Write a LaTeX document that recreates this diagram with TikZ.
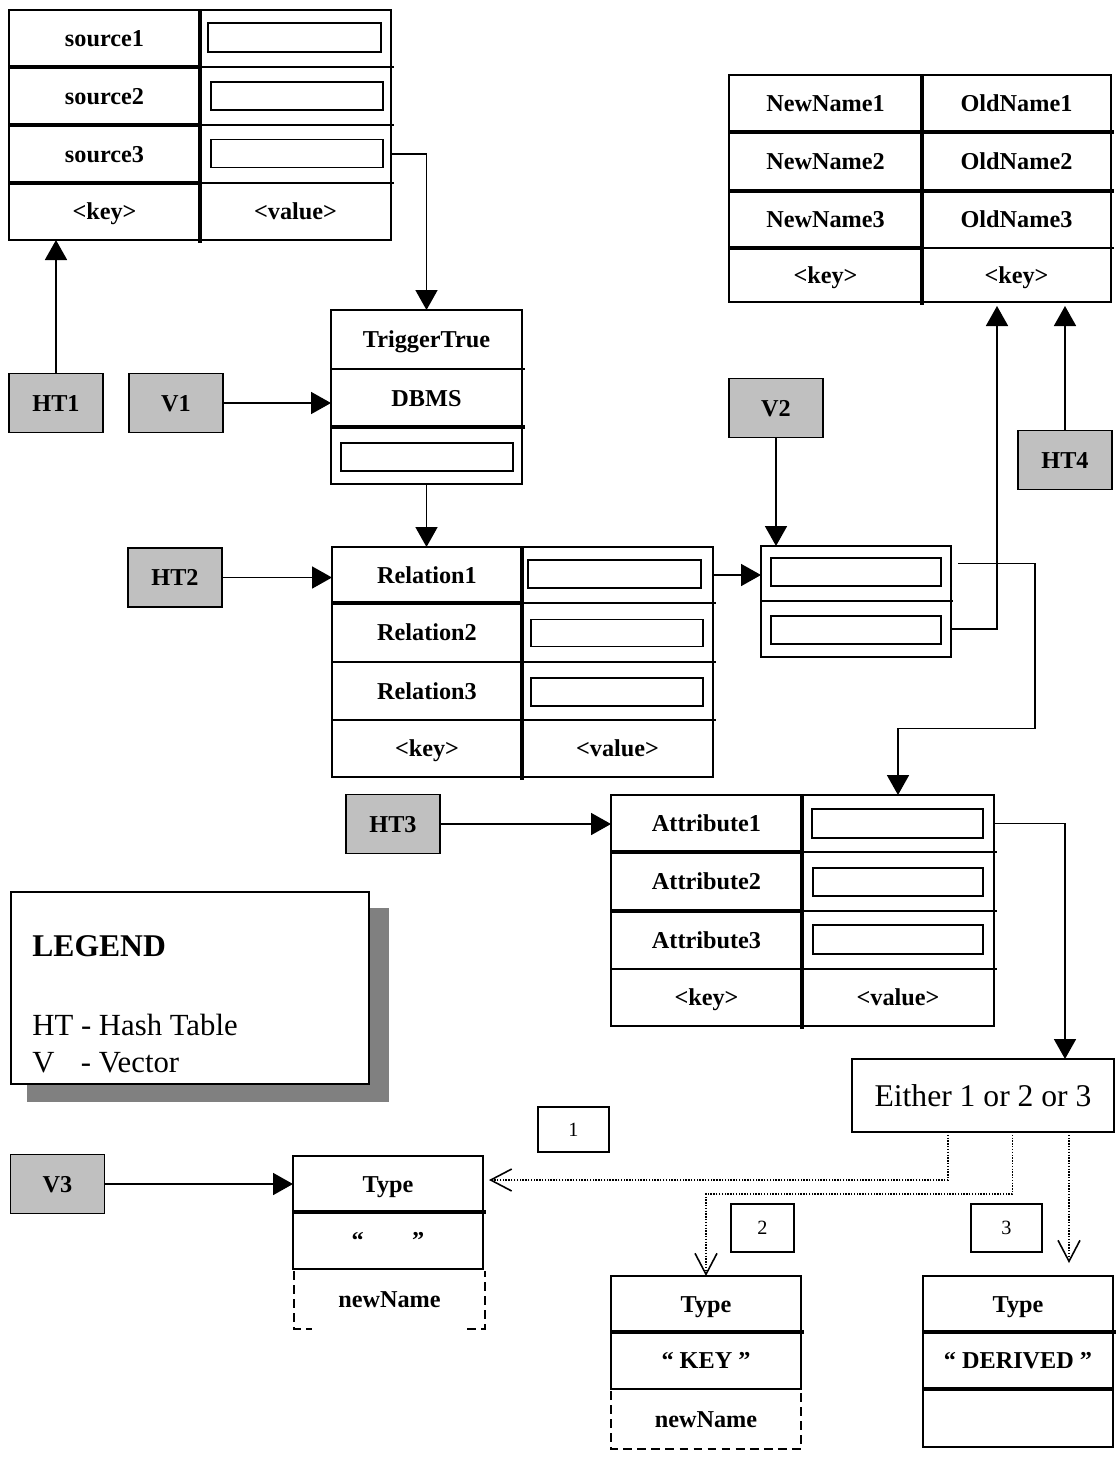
\documentclass[tikz,border=0pt]{standalone}
\usepackage{fontspec}
\setmainfont{Liberation Serif}
\usetikzlibrary{arrows.meta}
\definecolor{gboxc}{RGB}{192,192,192}
\definecolor{shadowc}{RGB}{128,128,128}
\newcommand{\lblfont}{\fontsize{13.8}{16}\selectfont\bfseries}
\begin{document}
\begin{tikzpicture}[x=0.02cm,y=-0.02cm,
  tframe/.style={line width=1.1pt},
  thickln/.style={line width=1.8pt},
  thinln/.style={line width=1pt},
  cell/.style 2 args={minimum width=#1*0.02cm,minimum height=#2*0.02cm,inner sep=0pt,outer sep=0pt,font=\lblfont,text height=9.3pt,text depth=0pt},
  vbox/.style 2 args={draw,line width=1pt,minimum width=#1*0.02cm,minimum height=#2*0.02cm,inner sep=0pt,outer sep=0pt},
  gbox/.style={draw,fill=gboxc,line width=1.1pt,minimum width=94*0.02cm,minimum height=59*0.02cm,inner sep=0pt,outer sep=0pt,font=\lblfont,text height=9.3pt,text depth=0pt},
  nbox/.style 2 args={draw,line width=0.8pt,minimum width=#1*0.02cm,minimum height=#2*0.02cm,inner sep=0pt,outer sep=0pt,font=\fontsize{11.5}{13}\selectfont,text height=7.7pt,text depth=0pt},
  arr/.style={line width=1pt,-{Triangle[length=0.4cm,width=0.44cm]}},
  tline/.style={line width=1pt},
  dotarr/.style={line width=0.8pt,dash pattern=on 0.8pt off 0.8pt,-{Straight Barb[length=0.42cm,width=0.44cm,line width=0.9pt]}},
  dashbox/.style={line width=1pt,dash pattern=on 5pt off 3pt}
]
\useasboundingbox (0,0) rectangle (1118,1458);

% ---------- Table 1 (sources)
\draw[tframe] (9,10) rectangle (391,240);
\foreach \yy in {67,125,183}{\draw[thickln] (9,\yy) -- (200,\yy); \draw[thinln] (200,\yy) -- (394,\yy);}
\draw[thickln] (200,10) -- (200,243);
\node[cell={191}{57}] (s1) at (104.5,38.5) {source1};
\node[cell={191}{58}] (s2) at (104.5,96) {source2};
\node[cell={191}{58}] (s3) at (104.5,154) {source3};
\node[cell={191}{57}] (sk) at (104.5,211.5) {<key>};
\node[cell={191}{57}] (sv1) at (295.5,38.5) {};
\node[cell={191}{58}] (sv2) at (295.5,96) {};
\node[cell={191}{58}] (sv3) at (295.5,154) {};
\node[cell={191}{57}] (svk) at (295.5,211.5) {<value>};
\node[vbox={173}{29}] (sb1) at (294.5,37.5) {};
\node[vbox={172}{28}] (sb2) at (297,96) {};
\node[vbox={172}{28}] (sb3) at (297,153.5) {};

% ---------- TriggerTrue vector
\draw[tframe] (331,310) rectangle (522,484);
\draw[tframe] (331,369) -- (525,369);
\draw[thickln] (331,427) -- (525,427);
\node[cell={191}{59}] (tt1) at (426.5,339.5) {TriggerTrue};
\node[cell={191}{58}] (tt2) at (426.5,398) {DBMS};
\node[cell={191}{57}] (tt3) at (426.5,455.5) {};
\node[vbox={172}{28}] (ttb) at (427,457) {};

% ---------- Relation table
\draw[tframe] (332,547) rectangle (713,777);
\draw[thickln] (332,603) -- (522,603);
\draw[thinln] (522,603) -- (716,603);
\foreach \yy in {662,720}{\draw[thinln] (332,\yy) -- (716,\yy);}
\draw[thickln] (522,547) -- (522,780);
\node[cell={190}{56}] (r1) at (427,575) {Relation1};
\node[cell={190}{59}] (r2) at (427,632.5) {Relation2};
\node[cell={190}{58}] (r3) at (427,691) {Relation3};
\node[cell={190}{57}] (rk) at (427,748.5) {<key>};
\node[cell={191}{56}] (rv1) at (617.5,575) {};
\node[cell={191}{59}] (rv2) at (617.5,632.5) {};
\node[cell={191}{58}] (rv3) at (617.5,691) {};
\node[cell={191}{57}] (rvk) at (617.5,748.5) {<value>};
\node[vbox={173}{28}] (rb1) at (614.5,574) {};
\node[vbox={172}{27}] (rb2) at (617,633) {};
\node[vbox={172}{28}] (rb3) at (617,692) {};

% ---------- NewName table
\draw[tframe] (729,75) rectangle (1111,302);
\foreach \yy in {132,191}{\draw[thickln] (729,\yy) -- (1114,\yy);}
\draw[thickln] (729,248) -- (922,248);
\draw[tframe] (922,248) -- (1114,248);
\draw[thickln] (922,75) -- (922,305);
\node[cell={193}{57}] (n1) at (825.5,103.5) {NewName1};
\node[cell={193}{59}] (n2) at (825.5,161.5) {NewName2};
\node[cell={193}{57}] (n3) at (825.5,219.5) {NewName3};
\node[cell={193}{54}] (nk) at (825.5,275) {<key>};
\node[cell={189}{57}] (o1) at (1016.5,103.5) {OldName1};
\node[cell={189}{59}] (o2) at (1016.5,161.5) {OldName2};
\node[cell={189}{57}] (o3) at (1016.5,219.5) {OldName3};
\node[cell={189}{54}] (ok) at (1016.5,275) {<key>};
\coordinate (nnb) at (997,306);

% ---------- Vector of V2
\draw[tframe] (761,546) rectangle (951,657);
\draw[thinln] (761,601) -- (953,601);
\node[cell={190}{55}] (vc1) at (856,573.5) {};
\node[cell={190}{56}] (vc2) at (856,629) {};
\node[vbox={170}{28}] (vb1) at (856,572) {};
\node[vbox={170}{28}] (vb2) at (856,630) {};

% ---------- Attribute table
\draw[tframe] (611,795) rectangle (994,1026);
\foreach \yy in {852,911}{\draw[thickln] (611,\yy) -- (802,\yy); \draw[thinln] (802,\yy) -- (997,\yy);}
\draw[thinln] (611,969) -- (997,969);
\draw[thickln] (802,795) -- (802,1029);
\node[cell={191}{57}] (a1) at (706.5,823.5) {Attribute1};
\node[cell={191}{59}] (a2) at (706.5,881.5) {Attribute2};
\node[cell={191}{58}] (a3) at (706.5,940) {Attribute3};
\node[cell={191}{57}] (ak) at (706.5,997.5) {<key>};
\node[cell={192}{57}] (av1) at (898,823.5) {};
\node[cell={192}{59}] (av2) at (898,881.5) {};
\node[cell={192}{58}] (av3) at (898,940) {};
\node[cell={192}{57}] (avk) at (898,997.5) {<value>};
\node[vbox={171}{29}] (ab1) at (897.5,823.5) {};
\node[vbox={170}{28}] (ab2) at (898,882) {};
\node[vbox={170}{29}] (ab3) at (898,939.5) {};

% ---------- gray boxes
\node[gbox] (ht1) at (56,403) {HT1};
\node[gbox] (v1) at (176,403) {V1};
\node[gbox] (ht2) at (175,577.5) {HT2};
\node[gbox] (v2) at (776,408) {V2};
\node[gbox] (ht4) at (1065,460) {HT4};
\node[gbox] (ht3) at (393,824) {HT3};
\node[gbox] (v3) at (57.5,1184) {V3};

% ---------- Legend
\fill[shadowc] (27,908) rectangle (389,1102);
\node[draw,fill=white,line width=1.1pt,minimum width=358*0.02cm,minimum height=192*0.02cm,inner sep=0pt,outer sep=0pt] (legend) at (190,988) {};
\node[anchor=base west,inner sep=0pt,font=\fontsize{18}{21}\selectfont\bfseries] (legt) at (32,956) {LEGEND};
\node[anchor=base west,inner sep=0pt,font=\fontsize{17.5}{20}\selectfont] (leg1) at (32,1035) {HT - Hash Table};
\node[anchor=base west,inner sep=0pt,font=\fontsize{17.5}{20}\selectfont] (leg2) at (32,1072) {\makebox[1.583em][l]{V}- Vector};

% ---------- Either box and number boxes
\node[draw,line width=1pt,minimum width=262*0.02cm,minimum height=73*0.02cm,inner sep=0pt,outer sep=0pt,font=\fontsize{18}{21}\selectfont,text height=12pt,text depth=0pt] (either) at (983,1095.5) {Either 1 or 2 or 3};
\node[nbox={71}{45}] (nb1) at (573.5,1129.5) {1};
\node[nbox={63}{48}] (nb2) at (762.5,1228) {2};
\node[nbox={71}{48}] (nb3) at (1006.5,1228) {3};

% ---------- Type records
% record 1
\draw[tframe] (293,1156) rectangle (483,1269);
\draw[thickln] (293,1212) -- (486,1212);
\node[cell={190}{56}] (ty1a) at (388,1184) {Type};
\node[cell={190}{57}] (ty1b) at (388,1240.5) {“\hspace{2em}”};
\node[cell={191}{60}] (ty1c) at (389.5,1299) {newName};
\draw[dashbox] (294,1271) -- (294,1329) -- (312,1329);
\draw[dashbox] (467,1329) -- (485,1329) -- (485,1271);
% record 2
\draw[tframe] (611,1276) rectangle (801,1389);
\draw[thickln] (611,1332) -- (804,1332);
\node[cell={190}{56}] (ty2a) at (706,1304) {Type};
\node[cell={190}{57}] (ty2b) at (706,1360.5) {“ KEY ”};
\node[cell={190}{60}] (ty2c) at (706,1419) {newName};
\draw[dashbox] (611,1391) -- (611,1449) -- (801,1449) -- (801,1391);
% record 3
\draw[tframe] (923,1276) rectangle (1113,1447);
\draw[thickln] (923,1332) -- (1116,1332);
\draw[thickln] (923,1389) -- (1113,1389);
\node[cell={190}{56}] (ty3a) at (1018,1304) {Type};
\node[cell={190}{57}] (ty3b) at (1018,1360.5) {“ DERIVED ”};
\node[cell={190}{58}] (ty3c) at (1018,1418) {};

% ---------- connectors
\draw[arr] (ht1.north) -- (ht1.north |- sk.south);
\draw[arr] (v1.east) -- (v1.east -| tt2.west);
\draw[arr] (sv3.east) -| (tt1.north);
\draw[arr] (tt3.south) -- (tt3.south |- r1.north);
\draw[arr] (ht2.east) -- (ht2.east -| r1.west);
\draw[arr] (rv1.east) -- (rv1.east -| vc1.west);
\draw[arr] (v2.south) -- (v2.south |- vc1.north);
\draw[arr] ([xshift=7*0.02cm,yshift=10*0.02cm]vc1.east) -- ++(77,0) -- ++(0,165) -| (av1.north);
\draw[arr] (vc2.east) -| (nnb);
\draw[arr] (ht4.north) -- (ht4.north |- nnb);
\draw[arr] (ht3.east) -- (ht3.east -| a1.west);
\draw[arr] (av1.east) -| ([xshift=82*0.02cm]either.north);
\draw[arr] (v3.east) -- (v3.east -| ty1a.west);
\draw[dotarr] ([xshift=-35*0.02cm]either.south) |- ([xshift=6*0.02cm,yshift=4*0.02cm]ty1a.east);
\draw[dotarr] ([xshift=29.5*0.02cm]either.south) -- ++(0,62) -| (ty2a.north);
\draw[dotarr] ([xshift=86*0.02cm]either.south) -- ++(0,131);
\end{tikzpicture}
\end{document}
